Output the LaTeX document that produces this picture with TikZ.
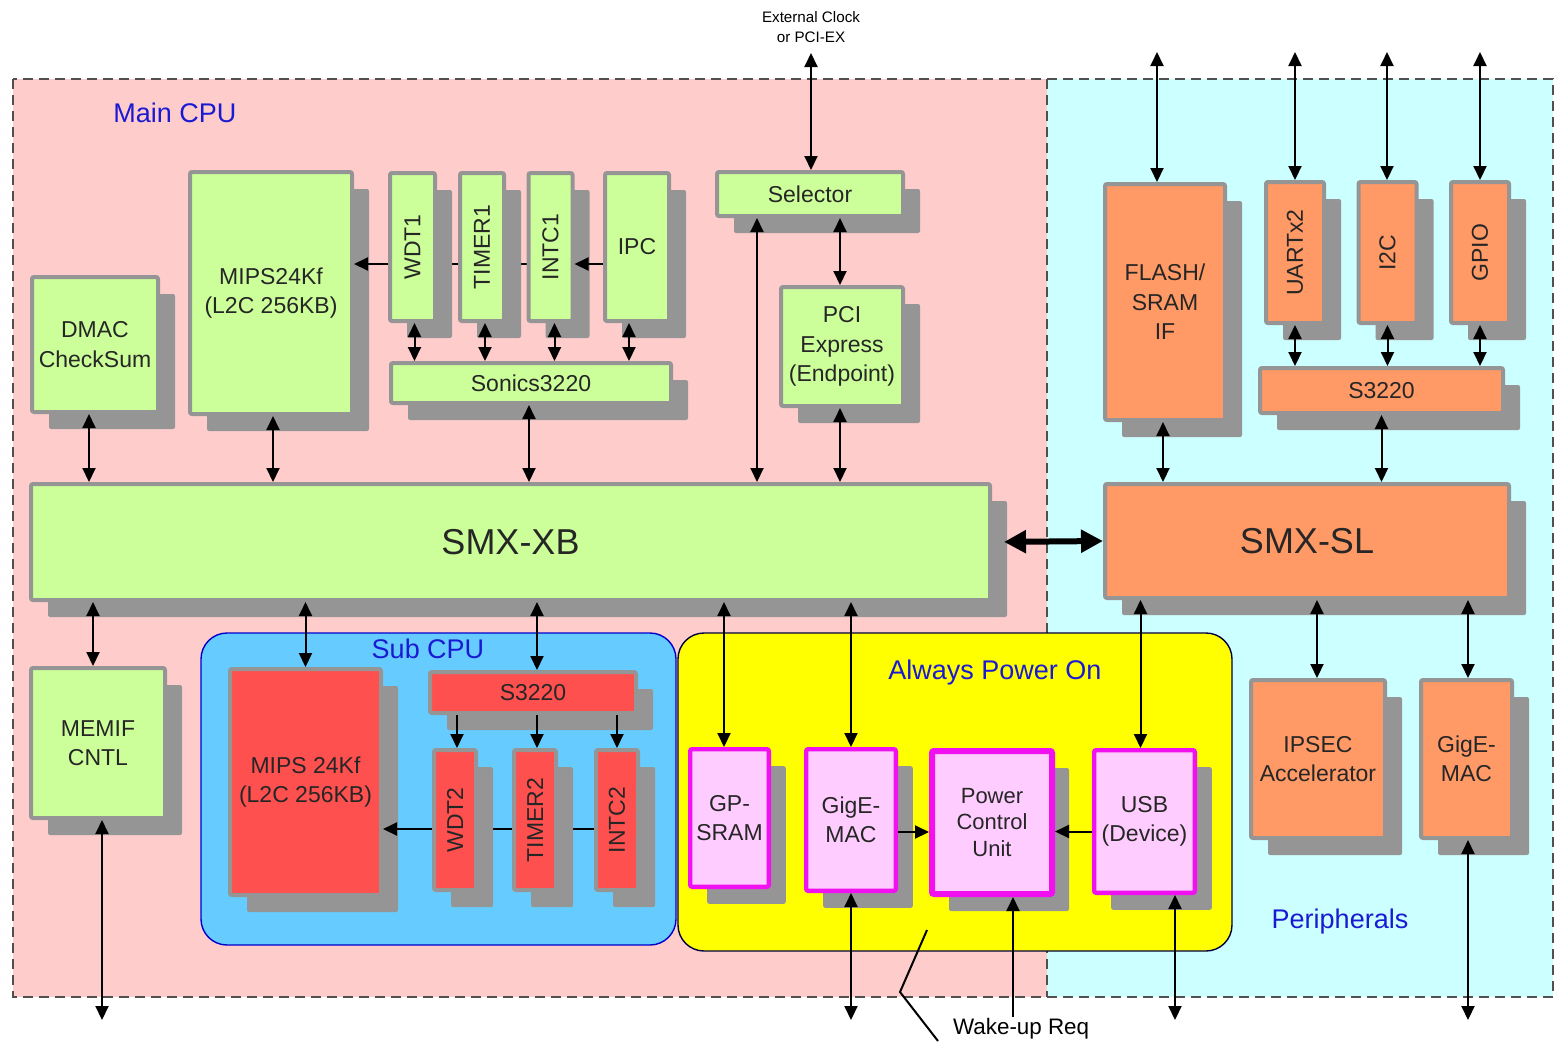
\documentclass[tikz,border=0pt]{standalone}
\usepackage{fontspec}
\setmainfont{Liberation Sans}
\usetikzlibrary{shadows,arrows.meta}

\definecolor{pinkbg}{HTML}{FFCCCC}
\definecolor{cyanbg}{HTML}{CCFFFF}
\definecolor{grn}{HTML}{CCFF99}
\definecolor{org}{HTML}{FF9966}
\definecolor{redb}{HTML}{FF5050}
\definecolor{subblue}{HTML}{66CCFF}
\definecolor{apoyel}{HTML}{FFFF00}
\definecolor{pkbox}{HTML}{FFCCFF}
\definecolor{mag}{HTML}{F010F0}
\definecolor{shgray}{HTML}{959595}
\definecolor{lblue}{HTML}{1A1AD2}
\definecolor{dashgray}{HTML}{505050}

\pgfdeclarelayer{back}
\pgfdeclarelayer{middle}
\pgfsetlayers{back,middle,main}

\begin{document}
\begin{tikzpicture}[x=0.5pt,y=-0.5pt,
	>={Triangle[length=7pt,width=6.5pt]},
	blk/.style={draw=shgray, line width=2pt, rounded corners=1pt, inner sep=1pt, align=center,
		text=black!85, font=\fontsize{11.5}{14.75}\selectfont,
		drop shadow={shadow xshift=8.5pt, shadow yshift=-8.5pt, fill=shgray, opacity=1}},
	gblk/.style={blk, fill=grn},
	oblk/.style={blk, fill=org},
	rblk/.style={blk, fill=redb},
	pblk/.style={blk, fill=pkbox, draw=mag, line width=2.2pt},
	bus/.style={font=\fontsize{18}{22}\selectfont},
	grp/.style={text=lblue, font=\fontsize{13.5}{16}\selectfont},
	lnk/.style={line width=1pt},
	region/.style={draw=dashgray, line width=0.8pt, dash pattern=on 5pt off 3pt}]

	% 画布大小,与原图一致
	\useasboundingbox (0,0) rectangle (1554,1041);

	% 背景区域:Main CPU(粉色)和 Peripherals(浅蓝色)
	\begin{pgfonlayer}{back}
		\fill[pinkbg] (13,79) rectangle (1047,997);
		\fill[cyanbg] (1047,79) rectangle (1553,997);
		\draw[region] (13,79) rectangle (1553,997);
		\draw[region] (1047,79) -- (1047,997);
		% Sub CPU 和 Always Power On 两个圆角框
		\draw[fill=subblue, draw=blue!80!black, line width=0.7pt, rounded corners=13pt] (201,633) rectangle (676,945);
		\draw[fill=apoyel, draw=black!75!blue, line width=0.7pt, rounded corners=13pt] (678,633) rectangle (1232,951);
	\end{pgfonlayer}

	% 区域标题
	\node[grp] (maincpu) at (175,113) {Main CPU};
	\node[grp] (subcpu) at (428,649) {Sub CPU};
	\node[grp] (apo) at (995,673) {Always Power On};
	\node[grp] (periph) at (1340,922) {Peripherals};

	% Main CPU 里的绿色模块
	\node[gblk, minimum width=63pt, minimum height=67.5pt] (dmac) at (95,344.5) {DMAC\\CheckSum};
	\node[gblk, minimum width=81pt, minimum height=121pt] (mipsa) at (271,293) {MIPS24Kf\\(L2C 256KB)};
	\node[gblk, minimum width=22.5pt, minimum height=74pt] (wdta) at (412.5,247) {\rotatebox{90}{WDT1}};
	\node[gblk, minimum width=22pt, minimum height=74pt] (timera) at (482,247) {\rotatebox{90}{TIMER1}};
	\node[gblk, minimum width=22pt, minimum height=74pt] (intca) at (550.5,247) {\rotatebox{90}{INTC1}};
	\node[gblk, minimum width=32pt, minimum height=74pt] (ipc) at (637,247) {IPC};
	\node[gblk, minimum width=140pt, minimum height=20pt] (sonics) at (531,383) {Sonics3220};
	\node[gblk, minimum width=93pt, minimum height=22pt] (sel) at (810,194) {Selector};
	\node[gblk, minimum width=61pt, minimum height=59.5pt] (pci) at (842,346.5) {PCI\\Express\\(Endpoint)};
	\node[gblk, bus, minimum width=479.5pt, minimum height=58pt] (xb) at (510.5,542) {SMX-XB};
	\node[gblk, minimum width=67pt, minimum height=75pt] (memif) at (98,743) {MEMIF\\CNTL};

	% Sub CPU 里的红色模块
	\node[rblk, minimum width=75.5pt, minimum height=113pt] (mipsb) at (305.5,782) {MIPS 24Kf\\(L2C 256KB)};
	\node[rblk, minimum width=103pt, minimum height=20.5pt] (subs) at (533,692.5) {S3220};
	\node[rblk, minimum width=21pt, minimum height=70pt] (wdtb) at (455,820) {\rotatebox{90}{WDT2}};
	\node[rblk, minimum width=21pt, minimum height=70pt] (timerb) at (535,820) {\rotatebox{90}{TIMER2}};
	\node[rblk, minimum width=21pt, minimum height=70pt] (intcb) at (617,820) {\rotatebox{90}{INTC2}};

	% Always Power On 里的粉色模块
	\node[pblk, minimum width=39.3pt, minimum height=68.8pt] (gpsram) at (729.5,818) {GP-\\SRAM};
	\node[pblk, minimum width=44.8pt, minimum height=70.8pt] (gigea) at (851,820) {GigE-\\MAC};
	\node[pblk, line width=3pt, minimum width=60pt, minimum height=71.5pt, font=\fontsize{11}{13.25}\selectfont] (pcu) at (992,822.5) {Power\\Control\\Unit};
	\node[pblk, minimum width=50.3pt, minimum height=71.3pt] (usb) at (1144.5,821.5) {USB\\(Device)};

	% Peripherals 里的橙色模块
	\node[oblk, minimum width=60pt, minimum height=118pt] (flash) at (1165,302) {FLASH/\\SRAM\\IF};
	\node[oblk, minimum width=29pt, minimum height=70.5pt] (uart) at (1295,252.5) {\rotatebox{90}{UARTx2}};
	\node[oblk, minimum width=29pt, minimum height=70.5pt] (iic) at (1387.5,252.5) {\rotatebox{90}{I2C}};
	\node[oblk, minimum width=29pt, minimum height=70.5pt] (gpio) at (1480,252.5) {\rotatebox{90}{GPIO}};
	\node[oblk, minimum width=121.5pt, minimum height=22.5pt] (pss) at (1381.5,390.5) {S3220};
	\node[oblk, bus, minimum width=202pt, minimum height=57pt] (sl) at (1307,541) {SMX-SL};
	\node[oblk, minimum width=67pt, minimum height=79pt] (ipsec) at (1318,759) {IPSEC\\Accelerator};
	\node[oblk, minimum width=45.5pt, minimum height=79pt] (gigeb) at (1466.5,759) {GigE-\\MAC};

	% 外部信号的端点
	\coordinate (clk) at (811,53);
	\coordinate (flout) at (1157,52);
	\coordinate (uaout) at (1295,52);
	\coordinate (i2out) at (1387,52);
	\coordinate (gpout) at (1480,52);
	\coordinate (memout) at (102,1020);
	\coordinate (gigout) at (851,1020);
	\coordinate (usbout) at (1175,1020);
	\coordinate (gbout) at (1468,1020);
	\coordinate (wake) at (1013,1017);

	% 外部时钟说明
	\node[font=\fontsize{7.6}{10}\selectfont, align=center] (clklbl) at (811,27) {External Clock\\or PCI-EX};
	\node[font=\fontsize{11.2}{13}\selectfont, anchor=west] (wakelbl) at (946,1029) {Wake-up Req};

	% 被阴影挡住的连线,放在中间层
	\begin{pgfonlayer}{middle}
		\draw[lnk] ([yshift=-8.5pt]intca.west) -- ([yshift=-8.5pt]timera.east);
		\draw[lnk] ([yshift=-8.5pt]timera.west) -- ([yshift=-8.5pt]wdta.east);
		\draw[lnk] ([yshift=-4.5pt]intcb.west) -- ([yshift=-4.5pt]timerb.east);
		\draw[lnk] ([yshift=-4.5pt]timerb.west) -- ([yshift=-4.5pt]wdtb.east);
	\end{pgfonlayer}

	% Main CPU 内部连线
	\draw[lnk,->] ([yshift=-8.5pt]ipc.west) -- ([yshift=-8.5pt]intca.east);
	\draw[lnk,->] ([yshift=-8.5pt]wdta.west) -- ([yshift=-8.5pt]wdta.west -| mipsa.east);
	\draw[lnk,<->] ([xshift=1pt]wdta.south) -- ([xshift=1pt]wdta.south |- sonics.north);
	\draw[lnk,<->] ([xshift=1.5pt]timera.south) -- ([xshift=1.5pt]timera.south |- sonics.north);
	\draw[lnk,<->] ([xshift=2pt]intca.south) -- ([xshift=2pt]intca.south |- sonics.north);
	\draw[lnk,<->] ([xshift=-4pt]ipc.south) -- ([xshift=-4pt]ipc.south |- sonics.north);
	\draw[lnk,<->] (clk) -- (clk |- sel.north);
	\draw[lnk,<->] ([xshift=-1pt]pci.north) -- ([xshift=-1pt]pci.north |- sel.south);
	\draw[lnk,<->] ([xshift=21pt]sel.south west) -- ([xshift=21pt]sel.south west |- xb.north);
	\draw[lnk,<->] ([xshift=-1pt]pci.south) -- ([xshift=-1pt]pci.south |- xb.north);
	\draw[lnk,<->] ([xshift=-1pt]sonics.south) -- ([xshift=-1pt]sonics.south |- xb.north);
	\draw[lnk,<->] ([xshift=-3pt]dmac.south) -- ([xshift=-3pt]dmac.south |- xb.north);
	\draw[lnk,<->] ([xshift=1pt]mipsa.south) -- ([xshift=1pt]mipsa.south |- xb.north);

	% SMX-XB 与 SMX-SL 之间的粗箭头
	\draw[line width=3pt, <->, >={Triangle[length=11pt,width=11pt]}, shorten <=6pt] (xb.east) -- (sl.west);

	% SMX-XB 下方的连线
	\draw[lnk,<->] ([xshift=-2.5pt]memif.north) -- ([xshift=-2.5pt]memif.north |- xb.south);
	\draw[lnk,<->] (mipsb.north) -- (mipsb.north |- xb.south);
	\draw[lnk,<->] ([xshift=2pt]subs.north) -- ([xshift=2pt]subs.north |- xb.south);
	\draw[lnk,<->] ([xshift=-2.75pt]gpsram.north) -- ([xshift=-2.75pt]gpsram.north |- xb.south);
	\draw[lnk,<->] (gigea.north) -- (gigea.north |- xb.south);

	% Sub CPU 内部连线
	\draw[lnk,->] ([xshift=1pt]wdtb.north |- subs.south) -- ([xshift=1pt]wdtb.north);
	\draw[lnk,->] ([xshift=1pt]timerb.north |- subs.south) -- ([xshift=1pt]timerb.north);
	\draw[lnk,->] (intcb.north |- subs.south) -- (intcb.north);
	\draw[lnk,->] ([yshift=-4.5pt]wdtb.west) -- ([yshift=-4.5pt]wdtb.west -| mipsb.east);

	% Always Power On 内部连线
	\draw[lnk,->] ([yshift=-6pt]gigea.east) -- ([yshift=-6pt]gigea.east -| pcu.west);
	\draw[lnk,->] ([yshift=-5pt]usb.west) -- ([yshift=-5pt]usb.west -| pcu.east);

	% Peripherals 内部连线
	\draw[lnk,<->] ([xshift=-2pt]usb.north) -- ([xshift=-2pt]usb.north |- sl.south);
	\draw[lnk,<->] ([xshift=-0.5pt]ipsec.north) -- ([xshift=-0.5pt]ipsec.north |- sl.south);
	\draw[lnk,<->] ([xshift=0.75pt]gigeb.north) -- ([xshift=0.75pt]gigeb.north |- sl.south);
	\draw[lnk,<->] ([xshift=-1pt]flash.south) -- ([xshift=-1pt]flash.south |- sl.north);
	\draw[lnk,<->] (pss.south) -- (pss.south |- sl.north);
	\draw[lnk,<->] (uart.south) -- (uart.south |- pss.north);
	\draw[lnk,<->] (iic.south) -- (iic.south |- pss.north);
	\draw[lnk,<->] (gpio.south) -- (gpio.south |- pss.north);

	% 通向外部的连线
	\draw[lnk,<->] (flout) -- (flout |- flash.north);
	\draw[lnk,<->] (uaout) -- (uaout |- uart.north);
	\draw[lnk,<->] (i2out) -- (i2out |- iic.north);
	\draw[lnk,<->] (gpout) -- (gpout |- gpio.north);
	\draw[lnk,<->] (memout) -- (memout |- memif.south);
	\draw[lnk,<->] (gigout) -- (gigout |- gigea.south);
	\draw[lnk,<->] (usbout) -- (usbout |- usb.south);
	\draw[lnk,<->] (gbout) -- (gbout |- gigeb.south);
	\draw[lnk,->] (wake) -- (wake |- pcu.south);

	% Wake-up Req 的指示折线
	\draw[lnk] (927,930) -- (900,992) -- (938,1041);
\end{tikzpicture}
\end{document}
